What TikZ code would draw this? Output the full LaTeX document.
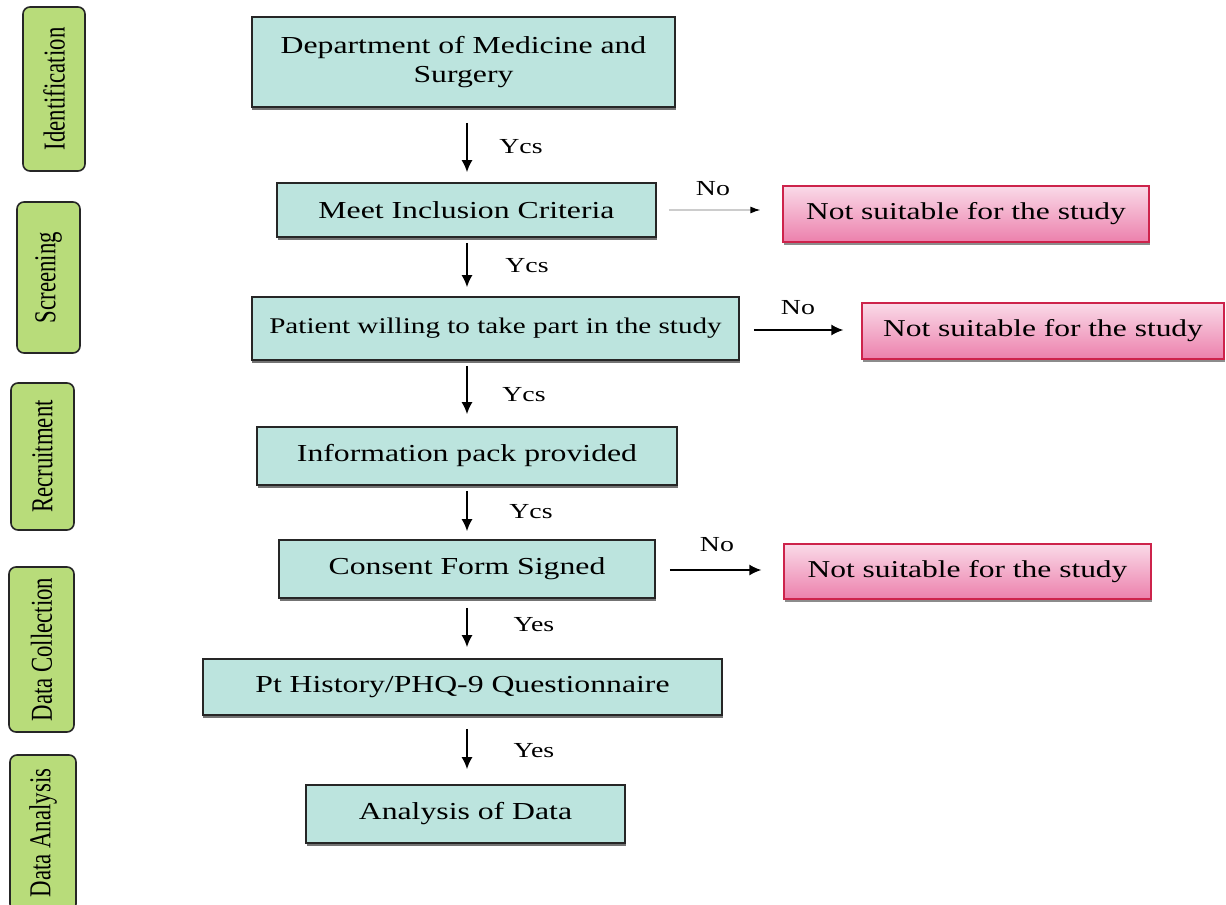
\documentclass[tikz,border=0pt]{standalone}
\usepackage{fontspec}
\setmainfont{Liberation Serif}
\newfontfamily\boxfont[FakeStretch=1.3]{Liberation Serif}
\newfontfamily\sidefont[FakeStretch=0.75]{Liberation Serif}
\usetikzlibrary{arrows.meta,shadows}
\definecolor{sidegreen}{RGB}{184,220,122}
\definecolor{boxblue}{RGB}{188,228,222}
\definecolor{pinktop}{RGB}{250,218,232}
\definecolor{pinkbot}{RGB}{236,128,172}
\definecolor{redline}{RGB}{205,35,75}
\begin{document}
\begin{tikzpicture}[x=1bp,y=-1bp,
  side/.style={draw=black!85, line width=1.6bp, rounded corners=7bp, fill=sidegreen,
    inner sep=0pt, rotate=90, font=\sidefont\fontsize{30.5}{32}\selectfont},
  stepbox/.style={draw=black!85, line width=1.6bp, fill=boxblue, inner sep=0pt,
    align=center, font=\boxfont\fontsize{24.5}{29}\selectfont,
    drop shadow={shadow xshift=0.5bp, shadow yshift=-2.5bp, fill=black!55, opacity=1}},
  rejbox/.style={draw=redline, line width=1.2bp, top color=pinktop, bottom color=pinkbot,
    inner sep=0pt, font=\boxfont\fontsize{24.3}{29}\selectfont,
    drop shadow={shadow xshift=0.5bp, shadow yshift=-2.5bp, fill=black!45, opacity=1}},
  lbl/.style={font=\boxfont\fontsize{21.5}{24}\selectfont, inner sep=0pt},
  arr/.style={line width=1.8bp, -{Latex[length=12bp,width=11bp]}}
]
\clip (0,0) rectangle (1226,905);
\fill[white] (0,0) rectangle (1226,905);

% side stage labels
\node[side, minimum width=164bp, minimum height=62bp] (sid)  at (54,89)     {Identification};
\node[side, minimum width=151bp, minimum height=63bp] (sscr) at (48.5,277.5) {Screening};
\node[side, minimum width=147bp, minimum height=63bp] (srec) at (42.5,456.5) {Recruitment};
\node[side, minimum width=165bp, minimum height=65bp] (scol) at (41.5,649.5) {Data Collection};
\node[side, minimum width=156bp, minimum height=66bp] (sana) at (43,833)     {Data Analysis};

% main steps
\node[stepbox, minimum width=423bp, minimum height=90bp] (dept) at (463.5,62) {Department of Medicine and\\Surgery};
\node[stepbox, minimum width=379bp, minimum height=54bp] (meet) at (466.5,210) {Meet Inclusion Criteria};
\node[stepbox, minimum width=487bp, minimum height=63bp, font=\boxfont\fontsize{22.5}{26}\selectfont] (pat) at (495.5,328.5) {Patient willing to take part in the study};
\node[stepbox, minimum width=420bp, minimum height=58bp] (info) at (467,456) {Information pack provided};
\node[stepbox, minimum width=376bp, minimum height=58bp] (cons) at (467,569) {Consent Form Signed};
\node[stepbox, minimum width=519bp, minimum height=56bp] (hist) at (462.5,687) {Pt History/PHQ-9 Questionnaire};
\node[stepbox, minimum width=319bp, minimum height=58bp] (anal) at (465.5,814) {Analysis of Data};

% rejection boxes
\node[rejbox, minimum width=366bp, minimum height=56bp] (r1) at (966,214) {Not suitable for the study};
\node[rejbox, minimum width=362bp, minimum height=56bp] (r2) at (1043,331) {Not suitable for the study};
\node[rejbox, minimum width=367bp, minimum height=55bp] (r3) at (967.5,571.5) {Not suitable for the study};

\coordinate (ax) at (467,0);

% vertical arrows
\draw[arr, shorten <=15bp, shorten >=10bp] (dept.south -| ax) -- (meet.north -| ax);
\draw[arr, shorten <=5bp,  shorten >=9bp]  (meet.south -| ax) -- (pat.north -| ax);
\draw[arr, shorten <=5bp,  shorten >=12bp] (pat.south -| ax)  -- (info.north -| ax);
\draw[arr, shorten <=5bp,  shorten >=8bp]  (info.south -| ax) -- (cons.north -| ax);
\draw[arr, shorten <=9bp,  shorten >=11bp] (cons.south -| ax) -- (hist.north -| ax);
\draw[arr, shorten <=13bp, shorten >=15bp] (hist.south -| ax) -- (anal.north -| ax);

% horizontal arrows
\draw[line width=1.2bp, draw=black!20, -{Latex[length=10bp,width=7bp,color=black]}, shorten <=12bp, shorten >=22bp] (meet.east) -- (meet.east -| r1.west);
\draw[arr, shorten <=14bp, shorten >=18bp] ([yshift=-1.5bp]pat.east) -- ([yshift=-1.5bp]pat.east -| r2.west);
\draw[arr, shorten <=14bp, shorten >=22bp] ([yshift=-1bp]cons.east) -- ([yshift=-1bp]cons.east -| r3.west);

% labels
\node[lbl] (y1) at (521,147) {Ycs};
\node[lbl] (y2) at (527,266) {Ycs};
\node[lbl] (y3) at (524,395) {Ycs};
\node[lbl] (y4) at (531,512) {Ycs};
\node[lbl] (y5) at (534,625) {Yes};
\node[lbl] (y6) at (534,751) {Yes};
\node[lbl] (n1) at (713,189) {No};
\node[lbl] (n2) at (798,308) {No};
\node[lbl] (n3) at (717,545) {No};
\end{tikzpicture}
\end{document}
